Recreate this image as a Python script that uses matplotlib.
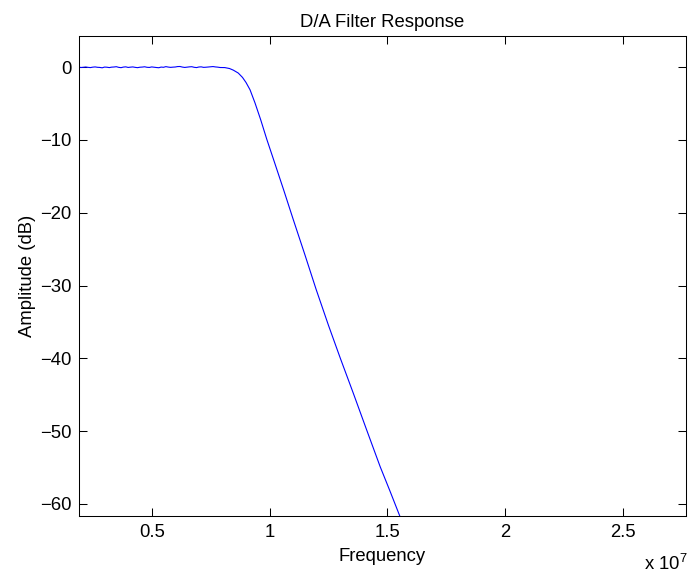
import matplotlib
matplotlib.use('Agg')
import matplotlib.pyplot as plt
from matplotlib.ticker import FuncFormatter

plt.rcParams['font.family'] = ['Liberation Sans', 'DejaVu Sans']
plt.rcParams['mathtext.fontset'] = 'custom'
plt.rcParams['mathtext.rm'] = 'Liberation Sans'

# passband samples, 1.9 MHz .. 7.9 MHz in 100 kHz steps
passband_hz = [1.9e6, 2.0e6, 2.1e6, 2.2e6, 2.3e6, 2.4e6, 2.5e6, 2.6e6, 2.7e6, 2.8e6,
               2.9e6, 3.0e6, 3.1e6, 3.2e6, 3.3e6, 3.4e6, 3.5e6, 3.6e6, 3.7e6, 3.8e6,
               3.9e6, 4.0e6, 4.1e6, 4.2e6, 4.3e6, 4.4e6, 4.5e6, 4.6e6, 4.7e6, 4.8e6,
               4.9e6, 5.0e6, 5.1e6, 5.2e6, 5.3e6, 5.4e6, 5.5e6, 5.6e6, 5.7e6, 5.8e6,
               5.9e6, 6.0e6, 6.1e6, 6.2e6, 6.3e6, 6.4e6, 6.5e6, 6.6e6, 6.7e6, 6.8e6,
               6.9e6, 7.0e6, 7.1e6, 7.2e6, 7.3e6, 7.4e6, 7.5e6, 7.6e6, 7.7e6, 7.8e6,
               7.9e6]
passband_db = [0.02, -0.04, -0.01, 0.03, -0.02, -0.05, 0.01, 0.04, -0.01, -0.03,
               -0.08, 0.02, 0.0, -0.05, 0.01, 0.03, 0.07, -0.02, -0.06, 0.02,
               0.05, -0.03, 0.01, 0.04, -0.02, -0.06, 0.0, 0.02, 0.06, -0.01,
               -0.03, 0.04, 0.0, -0.04, -0.07, 0.02, -0.01, 0.08, 0.02, -0.02,
               0.01, 0.03, 0.09, 0.1, 0.02, -0.03, 0.01, 0.05, 0.07, -0.01,
               -0.05, 0.03, 0.05, -0.02, 0.0, 0.03, 0.06, 0.09, 0.04, 0.01,
               -0.04]

# roll-off into the stopband
rolloff_hz = [8.1e6, 8.3e6, 8.46e6, 8.67e6, 8.85e6, 9.0e6, 9.17e6, 9.38e6, 9.62e6,
              9.88e6, 1.019e7, 1.06e7, 1.10e7, 1.15e7, 1.197e7, 1.25e7, 1.30e7,
              1.355e7, 1.41e7, 1.469e7, 1.51e7, 1.55e7, 1.57e7]
rolloff_db = [-0.05, -0.18, -0.4, -0.8, -1.4, -2.1, -3.1, -4.9, -7.2,
              -9.9, -12.9, -16.9, -20.9, -25.8, -30.5, -35.5, -40.0,
              -44.8, -49.7, -54.9, -58.2, -61.5, -63.1]

x_ticks = [0.5e7, 1.0e7, 1.5e7, 2.0e7, 2.5e7]
y_ticks = [0, -10, -20, -30, -40, -50, -60]

freq = passband_hz + rolloff_hz
amp = passband_db + rolloff_db

fig = plt.figure(figsize=(6.89, 5.76), dpi=100)
ax = fig.add_axes([78.5 / 689, 60 / 576, (686 - 78.5) / 689, (516 - 36) / 576])

ax.plot(freq, amp, color=(0, 0, 1), lw=0.8)

ax.set_xlim(1.895e6, 2.766e7)
ax.set_ylim(-61.67, 4.29)
ax.set_xticks(x_ticks)
ax.set_yticks(y_ticks)
ax.xaxis.set_major_formatter(FuncFormatter(lambda v, p: '%g' % (v / 1e7)))

ax.tick_params(direction='in', length=6, width=0.75, top=True, right=True,
               labelsize=13.3)
ax.tick_params(axis='x', pad=6)
ax.tick_params(axis='y', pad=4.9)
for s in ax.spines.values():
    s.set_linewidth(0.75)

ax.set_title('D/A Filter Response', fontsize=13.3, pad=6.8)
ax.set_xlabel('Frequency', fontsize=13.3, labelpad=4.5)
ax.set_ylabel('Amplitude (dB)', fontsize=13.3, labelpad=3.2)

# exponent shown the old MATLAB way under the right end of the axis
fig.text(644.3 / 689, (576 - 570) / 576, r'x 10$^{7}$', fontsize=13.3,
         va='baseline', ha='left')

fig.savefig('out.png', dpi=100, facecolor='white')
